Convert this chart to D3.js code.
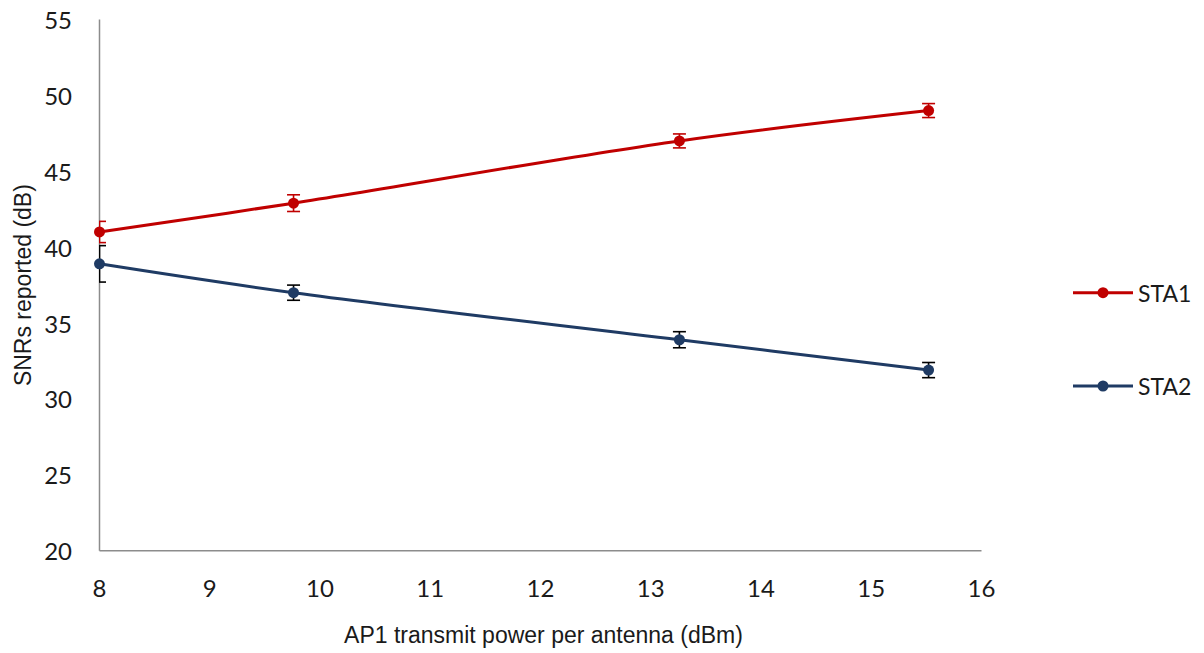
<!DOCTYPE html>
<html>
<head>
<meta charset="utf-8">
<script src="https://cdn.jsdelivr.net/npm/d3@7"></script>
<style>
  html, body { margin: 0; padding: 0; background: #ffffff; }
  svg { display: block; }
</style>
</head>
<body>
<svg id="chart" width="1204" height="653"></svg>
<script>
// ---- data ----
const xValues = [8, 9.76, 13.26, 15.52];
const sta1Values = [41.0, 42.9, 47.0, 49.0];
const sta1Errors = [0.7, 0.55, 0.46, 0.46];
const sta2Values = [38.9, 37.0, 33.9, 31.9];
const sta2Errors = [1.2, 0.5, 0.53, 0.5];
const seriesNames = ["STA1", "STA2"];
const xTicks = [8, 9, 10, 11, 12, 13, 14, 15, 16];
const yTicks = [20, 25, 30, 35, 40, 45, 50, 55];
const xTitle = "AP1 transmit power per antenna (dBm)";
const yTitle = "SNRs reported (dB)";

// ---- layout ----
const svg = d3.select("#chart");
const plotLeft = 99.5, plotRight = 981.5, plotTop = 19.5, plotBottom = 550.7;
const x = d3.scaleLinear().domain([8, 16]).range([plotLeft, plotRight]);
const y = d3.scaleLinear().domain([20, 55]).range([plotBottom, plotTop]);

const series = [
  { name: seriesNames[0], values: sta1Values, errors: sta1Errors, color: "#C00000", errColor: "#C00000" },
  { name: seriesNames[1], values: sta2Values, errors: sta2Errors, color: "#1F3B64", errColor: "#000000" }
];

const tickFont = "Lato, 'Open Sans', sans-serif";
const titleFont = "'Liberation Sans', Arial, sans-serif";

// y axis tick labels
svg.append("g").selectAll("text").data(yTicks).join("text")
  .attr("x", 72).attr("y", d => y(d))
  .attr("text-anchor", "end").attr("dominant-baseline", "central")
  .attr("font-family", tickFont).attr("font-size", 24).attr("fill", "#1a1a1a")
  .text(d => d);

// x axis tick labels
svg.append("g").selectAll("text").data(xTicks).join("text")
  .attr("x", d => x(d)).attr("y", 597)
  .attr("text-anchor", "middle")
  .attr("font-family", tickFont).attr("font-size", 24).attr("fill", "#1a1a1a")
  .text(d => d);

// axis lines
svg.append("line").attr("x1", plotLeft).attr("x2", plotLeft).attr("y1", plotTop).attr("y2", plotBottom)
  .attr("stroke", "#8c8c8c").attr("stroke-width", 1.5);
svg.append("line").attr("x1", plotLeft).attr("x2", plotRight).attr("y1", plotBottom).attr("y2", plotBottom)
  .attr("stroke", "#8c8c8c").attr("stroke-width", 1.5);

// titles
svg.append("text").attr("x", (342 + 745) / 2).attr("y", 643)
  .attr("text-anchor", "middle").attr("font-family", titleFont).attr("font-size", 23)
  .attr("fill", "#1a1a1a").text(xTitle);
svg.append("text")
  .attr("transform", `translate(31,${(plotTop + plotBottom) / 2}) rotate(-90)`)
  .attr("text-anchor", "middle").attr("font-family", titleFont).attr("font-size", 23)
  .attr("fill", "#1a1a1a").text(yTitle);

// clip for error bars
svg.append("clipPath").attr("id", "plotclip").append("rect")
  .attr("x", plotLeft - 0.5).attr("y", 0).attr("width", plotRight - plotLeft + 20).attr("height", plotBottom);

const line = d3.line().x(d => x(d[0])).y(d => y(d[1])).curve(d3.curveCatmullRom.alpha(0.5));
const cap = 6.5;

series.forEach(s => {
  const pts = xValues.map((xv, i) => [xv, s.values[i], s.errors[i]]);
  // error bars
  const eg = svg.append("g").attr("clip-path", "url(#plotclip)")
    .attr("stroke", s.errColor).attr("stroke-width", 1.6).attr("fill", "none");
  pts.forEach(p => {
    const cx = x(p[0]), y1 = y(p[1] + p[2]), y2 = y(p[1] - p[2]);
    eg.append("line").attr("x1", cx).attr("x2", cx).attr("y1", y1).attr("y2", y2);
    eg.append("line").attr("x1", cx - cap).attr("x2", cx + cap).attr("y1", y1).attr("y2", y1);
    eg.append("line").attr("x1", cx - cap).attr("x2", cx + cap).attr("y1", y2).attr("y2", y2);
  });
  // line
  svg.append("path").datum(pts).attr("d", line)
    .attr("fill", "none").attr("stroke", s.color).attr("stroke-width", 3);
  // markers
  svg.append("g").selectAll("circle").data(pts).join("circle")
    .attr("cx", d => x(d[0])).attr("cy", d => y(d[1])).attr("r", 5.5)
    .attr("fill", s.color);
});

// legend
const legendY = [292.7, 386];
series.forEach((s, i) => {
  const ly = legendY[i];
  svg.append("line").attr("x1", 1073).attr("x2", 1133).attr("y1", ly).attr("y2", ly)
    .attr("stroke", s.color).attr("stroke-width", 3);
  svg.append("circle").attr("cx", 1103).attr("cy", ly).attr("r", 5.5).attr("fill", s.color);
  svg.append("text").attr("x", 1138).attr("y", ly).attr("dominant-baseline", "central")
    .attr("font-family", tickFont).attr("font-size", 23).attr("fill", "#1a1a1a")
    .text(s.name);
});
</script>
</body>
</html>
